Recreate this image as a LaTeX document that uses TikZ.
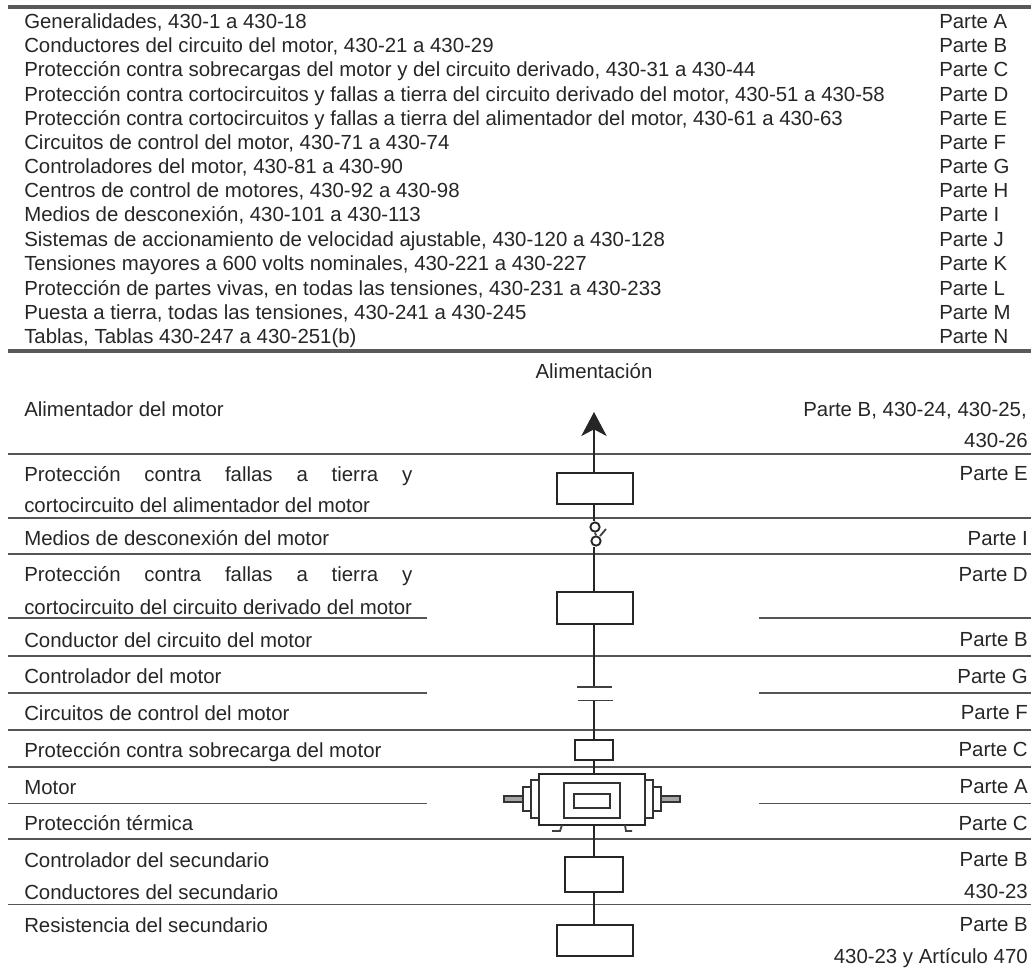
\documentclass[tikz,border=0pt]{standalone}
\usepackage{fontspec}
\setmainfont{Liberation Sans}
\usetikzlibrary{arrows.meta}
\definecolor{ink}{HTML}{262626}
\definecolor{rule}{HTML}{555555}
\tikzset{
 x=0.75pt,y=-0.75pt,
 lbl/.style={inner sep=0pt,anchor=base west,text=ink,font=\fontsize{15.3pt}{18pt}\selectfont},
 lbr/.style={inner sep=0pt,anchor=base east,text=ink,font=\fontsize{15.3pt}{18pt}\selectfont},
 rulefull/.style={draw=rule,line width=1.25pt},
 wire/.style={draw=black!85,line width=1.8pt},
 sym/.style={draw=black!85,line width=1.8pt,fill=white,inner sep=0pt,rectangle,minimum width=#1},
 sym/.default=57pt,
 thin sym/.style={draw=black!80,line width=1.5pt,fill=white,inner sep=0pt,outer sep=0pt},
 plate/.style={draw=black!75,line width=1.4pt},
}
\newcommand{\spread}[1]{\hbox to 291pt{#1}}
\begin{document}
\begin{tikzpicture}
\useasboundingbox (0,0) rectangle (1031,968);
% rules
\draw[draw=black!65,line width=3pt] (8,7) -- (1031,7);
\draw[draw=black!65,line width=3pt] (8,350.5) -- (1031,350.5);
\foreach \yy in {454,518,554,656,730,767,839,904.5}
  \draw[rulefull] (8,\yy) -- (1031,\yy);
\foreach \yy in {618,693,803.5}{
  \draw[rulefull] (8,\yy) -- (427,\yy);
  \draw[rulefull] (759,\yy) -- (1031,\yy);
}
% top table
\foreach \i/\yy/\tl/\tr in {
 1/28/{Generalidades, 430-1 a 430-18}/{Parte A},
 2/52.7/{Conductores del circuito del motor, 430-21 a 430-29}/{Parte B},
 3/76.8/{Protección contra sobrecargas del motor y del circuito derivado, 430-31 a 430-44}/{Parte C},
 4/101/{Protección contra cortocircuitos y fallas a tierra del circuito derivado del motor, 430-51 a 430-58}/{Parte D},
 5/125/{Protección contra cortocircuitos y fallas a tierra del alimentador del motor, 430-61 a 430-63}/{Parte E},
 6/149.5/{Circuitos de control del motor, 430-71 a 430-74}/{Parte F},
 7/173/{Controladores del motor, 430-81 a 430-90}/{Parte G},
 8/197.5/{Centros de control de motores, 430-92 a 430-98}/{Parte H},
 9/221.5/{Medios de desconexión, 430-101 a 430-113}/{Parte I},
 10/246/{Sistemas de accionamiento de velocidad ajustable, 430-120 a 430-128}/{Parte J},
 11/270.5/{Tensiones mayores a 600 volts nominales, 430-221 a 430-227}/{Parte K},
 12/295/{Protección de partes vivas, en todas las tensiones, 430-231 a 430-233}/{Parte L},
 13/319/{Puesta a tierra, todas las tensiones, 430-241 a 430-245}/{Parte M},
 14/343/{Tablas, Tablas 430-247 a 430-251(b)}/{Parte N}}{
  \node[lbl] (tl\i) at (24,\yy) {\tl};
  \node[lbl] (tr\i) at (939,\yy) {\tr};
}
% lower labels
\node[lbl,anchor=base] (head) at (594,378) {Alimentación};
\node[lbl] (a1) at (24,416.7) {Alimentador del motor};
\node[lbl] (a2) at (24,481.7) {\spread{Protección\hfill contra\hfill fallas\hfill a\hfill tierra\hfill y}};
\node[lbl] (a3) at (24,512) {cortocircuito del alimentador del motor};
\node[lbl] (a4) at (24,545) {Medios de desconexión del motor};
\node[lbl] (a5) at (24,581.7) {\spread{Protección\hfill contra\hfill fallas\hfill a\hfill tierra\hfill y}};
\node[lbl] (a6) at (24,614) {cortocircuito del circuito derivado del motor};
\node[lbl] (a7) at (24,647) {Conductor del circuito del motor};
\node[lbl] (a8) at (24,683) {Controlador del motor};
\node[lbl] (a9) at (24,720.5) {Circuitos de control del motor};
\node[lbl] (a10) at (24,757) {Protección contra sobrecarga del motor};
\node[lbl] (a11) at (24,794) {Motor};
\node[lbl] (a12) at (24,830) {Protección térmica};
\node[lbl] (a13) at (24,867) {Controlador del secundario};
\node[lbl] (a14) at (24,899) {Conductores del secundario};
\node[lbl] (a15) at (24,932.5) {Resistencia del secundario};
\node[lbr] (b1) at (1027,416.7) {Parte B, 430-24, 430-25,};
\node[lbr] (b2) at (1028,447.7) {430-26};
\node[lbr] (b3) at (1028,480.7) {Parte E};
\node[lbr] (b4) at (1028,545) {Parte I};
\node[lbr] (b5) at (1028,581.7) {Parte D};
\node[lbr] (b6) at (1028,646) {Parte B};
\node[lbr] (b7) at (1028,683) {Parte G};
\node[lbr] (b8) at (1028,719) {Parte F};
\node[lbr] (b9) at (1028,756.7) {Parte C};
\node[lbr] (b10) at (1028,793) {Parte A};
\node[lbr] (b11) at (1028,830) {Parte C};
\node[lbr] (b12) at (1028,866.7) {Parte B};
\node[lbr] (b13) at (1028,898) {430-23};
\node[lbr] (b14) at (1028,931.7) {Parte B};
\node[lbr] (b15) at (1028,963) {430-23 y Artículo 470};
% one-line symbols
\coordinate (tip) at (594,412);
\node[sym,minimum height=23.5pt] (fbox) at (595,488.5) {};
\node[circle,draw=black!85,line width=1.4pt,fill=white,inner sep=0pt,minimum size=7pt] (swa) at (595,527) {};
\node[circle,draw=black!85,line width=1.4pt,fill=white,inner sep=0pt,minimum size=7pt] (swb) at (596,541) {};
\node[sym,minimum height=24pt] (bbox) at (595,608) {};
\coordinate (capa) at (594,687);
\coordinate (capb) at (594,700.5);
\node[sym=28.5pt,minimum height=15pt] (ovl) at (594,750) {};
\node[sym=79.5pt,minimum height=38pt,outer sep=0pt] (mot) at (592,799.5) {};
\node[sym=43.5pt,minimum height=26.2pt] (secc) at (594,874.5) {};
\node[sym,minimum height=23.2pt] (res) at (595,940.5) {};
% connectors
\draw[wire,-{Stealth[length=18pt,width=19pt,inset=5pt]}] (fbox.north-|tip) -- (tip);
\draw[wire] (fbox.south-|tip) -- (swa.north-|tip);
\draw[wire] (swb.south-|tip) -- (bbox.north-|tip);
\draw[wire] (bbox.south-|tip) -- (capa);
\draw[wire] (capb) -- (ovl.north);
\draw[wire] (ovl.south) -- (mot.north-|ovl.south);
\draw[wire] (mot.south-|secc.north) -- (secc.north);
\draw[wire] (secc.south) -- (res.north-|secc.south);
% switch blade
\draw[plate] (swa.south) -- (swb.north);
\draw[plate] (606,529) -- (600,536);
% capacitor plates
\draw[plate] (577,687) -- (612,687);
\draw[plate] (578,700.5) -- (613,700.5);
% motor detail
\node[thin sym,minimum width=42pt,minimum height=26pt] (rotor) at (592,800.5) {};
\node[thin sym,minimum width=27pt,minimum height=10.5pt] (core) at (591.5,801) {};
\node[thin sym,minimum width=6pt,minimum height=28.5pt,anchor=east] (lcap) at (mot.west|-0,799) {};
\node[thin sym,minimum width=6pt,minimum height=18pt,anchor=east] (lcap2) at (lcap.west) {};
\node[thin sym,minimum width=14.5pt,minimum height=5pt,anchor=east,fill=black!35] (lshaft) at (lcap2.west) {};
\node[thin sym,minimum width=6pt,minimum height=28.5pt,anchor=west] (rcap) at (mot.east|-0,799) {};
\node[thin sym,minimum width=6pt,minimum height=18pt,anchor=west] (rcap2) at (rcap.east) {};
\node[thin sym,minimum width=14.5pt,minimum height=5pt,anchor=west,fill=black!35] (rshaft) at (rcap2.east) {};
\draw[plate] (562,825) -- (560,831) -- (552,831);
\draw[plate] (625,825) -- (626,831) -- (632,831);
\end{tikzpicture}
\end{document}
